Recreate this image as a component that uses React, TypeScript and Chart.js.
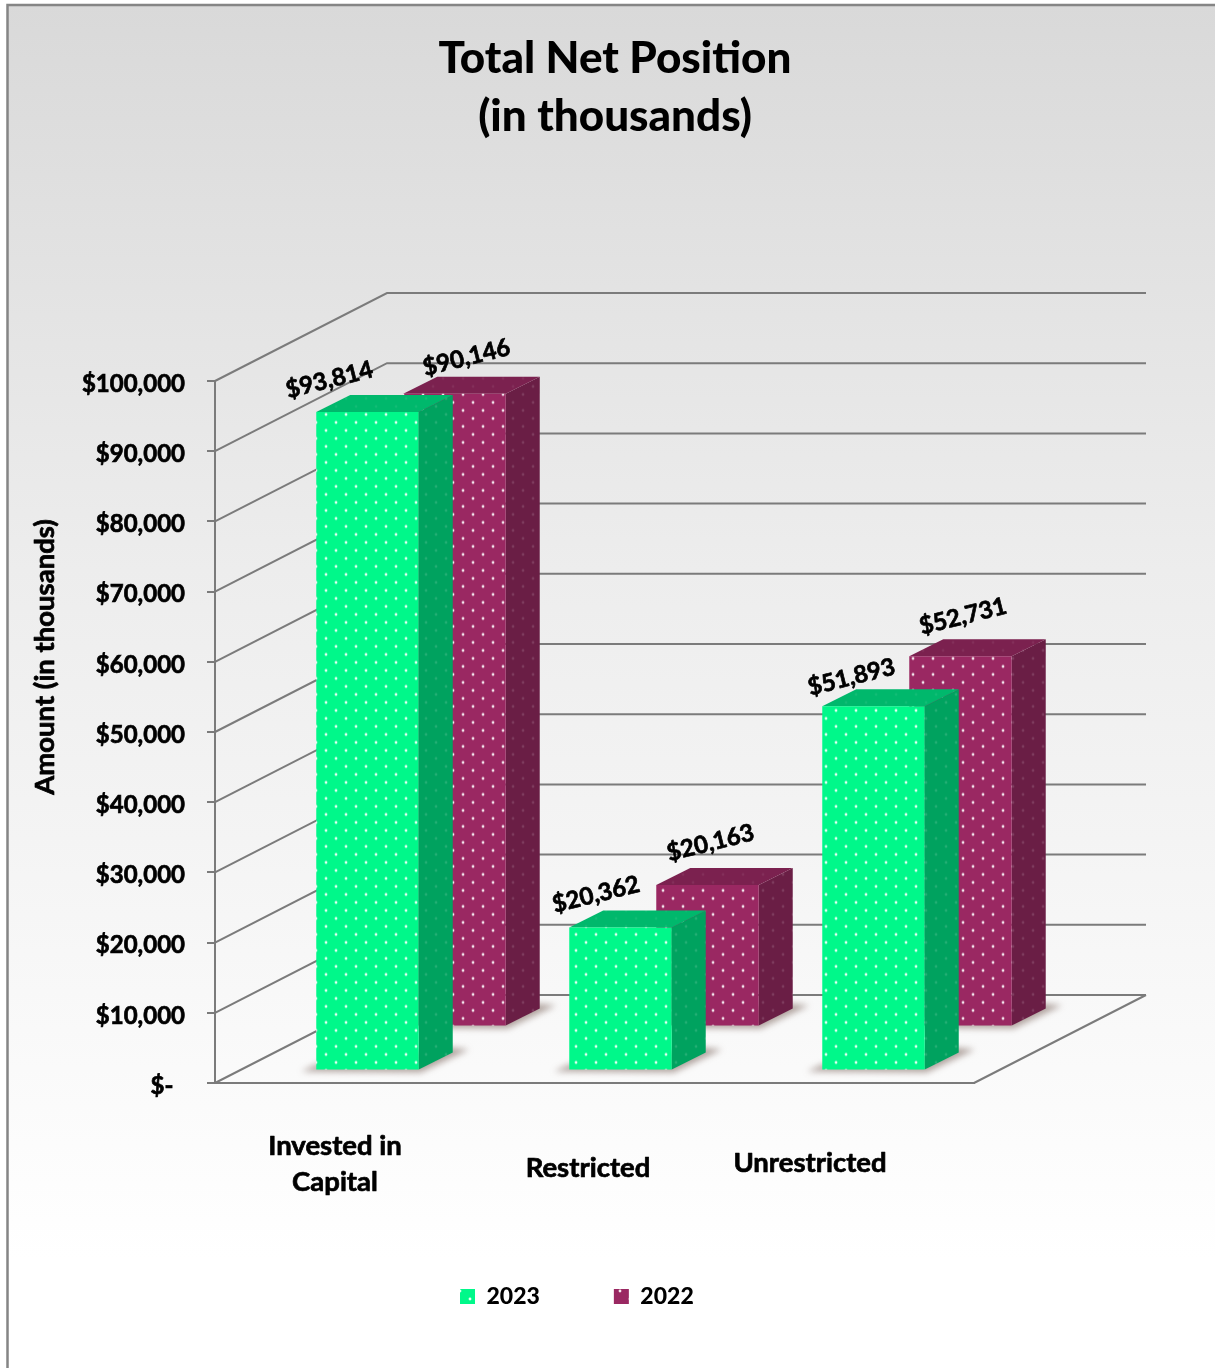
import React, { useEffect, useRef } from "react";
import { Chart } from "chart.js/auto";

// Chart values
const categories: string[][] = [["Invested in", "Capital"], ["Restricted"], ["Unrestricted"]];
const seriesNames = ["2023", "2022"];
const values2023 = [93814, 20362, 51893];
const values2022 = [90146, 20163, 52731];
const yTicks = { min: 0, max: 100000, step: 10000 };
const titleLines = ["Total Net Position", "(in thousands)"];
const yAxisTitle = "Amount (in thousands)";

// Layout of the pseudo-3D box
const WIDTH = 1215;
const HEIGHT = 1368;
const FONT = "Lato";
const LINE = "#7b7b7b";
const WALL_DX = 172;
const WALL_DY = -88;
const BAR_DX = 34;
const BAR_DY = -17;
// Where each series sits on the floor, relative to the front plane
const seriesShift = [
  [26, -12.5],
  [113, -56.5],
];
const seriesColors = [
  { front: "#00f88a", side: "#00a25f", top: "#00b86c" },
  { front: "#9a2862", side: "#6a1e45", top: "#7b214f" },
];
// Hand-placed value labels, relative to the top centre of each bar's front
const labelNudge = [
  [[-38, -32], [-24.5, -33], [-22, -29]],
  [[12, -36], [3, -42], [2.5, -40]],
];
const categoryNudge: number[][] = [[-6.5, 1146, 1182], [-6.5, 1168], [-37.5, 1163]];

function dotted(base: string, dot: string): CanvasPattern {
  const tile = document.createElement("canvas");
  tile.width = 20;
  tile.height = 16;
  const c = tile.getContext("2d")!;
  c.fillStyle = base;
  c.fillRect(0, 0, 20, 16);
  c.fillStyle = dot;
  for (const [x, y] of [[10, 3], [0, 11], [20, 11]]) {
    c.beginPath();
    c.arc(x, y, 1.4, 0, Math.PI * 2);
    c.fill();
  }
  return c.createPattern(tile, "repeat")!;
}

function poly(ctx: CanvasRenderingContext2D, pts: number[][], fill: any) {
  ctx.fillStyle = fill;
  ctx.beginPath();
  pts.forEach(([x, y], i) => (i ? ctx.lineTo(x, y) : ctx.moveTo(x, y)));
  ctx.closePath();
  ctx.fill();
}

// Filled text with a hairline outline, to give the heavier face used on the chart
function heavyText(ctx: CanvasRenderingContext2D, text: string, x: number, y: number) {
  ctx.strokeStyle = "#000";
  ctx.lineWidth = 0.7;
  ctx.lineJoin = "round";
  ctx.strokeText(text, x, y);
  ctx.fillText(text, x, y);
}

export default function App() {
  const ref = useRef<HTMLCanvasElement>(null);

  useEffect(() => {
    const sidePatterns = seriesColors.map((c) => dotted(c.side, "rgba(255,255,255,0.14)"));
    const topPatterns = seriesColors.map((c) => dotted(c.top, "rgba(255,255,255,0.07)"));

    const box3d = {
      id: "box3d",
      afterLayout(chart: any) {
        // Title is centred a little right of the canvas, legend is hand-placed
        chart.titleBlock.left = 0;
        chart.titleBlock.right = 1230;
        const pad = chart.legend.options.labels.padding;
        chart.legend.left = 460 - pad;
        chart.legend.right = WIDTH;
        chart.legend.top = 1285 - pad;
        chart.legend.bottom = HEIGHT;
      },
      beforeDraw(chart: any) {
        const ctx = chart.ctx;
        const g = ctx.createLinearGradient(0, 5, 0, 1260);
        g.addColorStop(0, "#d9d9d9");
        g.addColorStop(0.45, "#ededed");
        g.addColorStop(1, "#ffffff");
        ctx.save();
        ctx.fillStyle = g;
        ctx.fillRect(8, 5, WIDTH - 8, HEIGHT - 5);
        ctx.strokeStyle = "#858585";
        ctx.lineWidth = 2.5;
        ctx.beginPath();
        ctx.moveTo(7.5, HEIGHT);
        ctx.lineTo(7.5, 5);
        ctx.lineTo(WIDTH, 5);
        ctx.stroke();
        ctx.restore();
      },
      beforeDatasetsDraw(chart: any) {
        // Side wall and back wall rules, floor outline
        const { ctx, chartArea: a, scales } = chart;
        ctx.save();
        ctx.strokeStyle = LINE;
        ctx.lineWidth = 2;
        ctx.beginPath();
        for (const t of scales.y.ticks) {
          const py = scales.y.getPixelForValue(t.value);
          ctx.moveTo(a.left, py);
          ctx.lineTo(a.left + WALL_DX, py + WALL_DY);
          ctx.lineTo(a.right + WALL_DX, py + WALL_DY);
        }
        ctx.moveTo(a.right, a.bottom);
        ctx.lineTo(a.right + WALL_DX, a.bottom + WALL_DY);
        ctx.stroke();
        ctx.restore();
      },
      beforeDatasetDraw(chart: any, args: any) {
        const ctx = chart.ctx;
        const i = args.index;
        const [sx, sy] = seriesShift[i];
        ctx.save();
        ctx.translate(sx, sy);
        for (const el of args.meta.data) {
          const L = el.x - el.width / 2;
          const R = el.x + el.width / 2;
          const T = el.y;
          const B = el.base;
          ctx.save();
          ctx.filter = "blur(3px)";
          poly(ctx, [[L - 15, B + 2], [R + 2, B + 3], [R + 50, B - 20], [R + 30, B - 22], [L, B - 5]], "rgba(105,80,70,0.5)");
          ctx.restore();
          poly(ctx, [[R, T], [R + BAR_DX, T + BAR_DY], [R + BAR_DX, B + BAR_DY], [R, B]], sidePatterns[i]);
          poly(ctx, [[L, T], [L + BAR_DX, T + BAR_DY], [R + BAR_DX, T + BAR_DY], [R, T]], topPatterns[i]);
        }
      },
      afterDatasetDraw(chart: any) {
        chart.ctx.restore();
      },
      afterDatasetsDraw(chart: any) {
        const { ctx, scales } = chart;
        ctx.save();
        ctx.fillStyle = "#000";
        ctx.textAlign = "center";
        ctx.textBaseline = "middle";

        // Value labels, tilted along the box's perspective
        ctx.font = `bold 24px ${FONT}`;
        chart.data.datasets.forEach((ds: any, i: number) => {
          const meta = chart.getDatasetMeta(i);
          meta.data.forEach((el: any, j: number) => {
            ctx.save();
            ctx.translate(el.x + seriesShift[i][0] + labelNudge[i][j][0], el.y + seriesShift[i][1] + labelNudge[i][j][1]);
            ctx.rotate((-14 * Math.PI) / 180);
            heavyText(ctx, "$" + ds.data[j].toLocaleString("en-US"), 0, 0);
            ctx.restore();
          });
        });

        // Category names
        ctx.font = `bold 27.5px ${FONT}`;
        categories.forEach((lines, j) => {
          const cx = scales.x.getPixelForValue(j) + categoryNudge[j][0];
          lines.forEach((text, k) => heavyText(ctx, text, cx, categoryNudge[j][k + 1]));
        });

        // Value axis title
        ctx.save();
        ctx.translate(45, 657);
        ctx.rotate(-Math.PI / 2);
        ctx.font = `bold 27.5px ${FONT}`;
        heavyText(ctx, yAxisTitle, 0, 0);
        ctx.restore();
        ctx.restore();
      },
    };

    const chart = new Chart(ref.current!, {
      type: "bar",
      data: {
        labels: categories.map((c) => c.join(" ")),
        datasets: [values2023, values2022].map((data, i) => ({
          label: seriesNames[i],
          data,
          grouped: false,
          backgroundColor: dotted(seriesColors[i].front, "rgba(255,255,255,0.9)"),
          borderWidth: 0,
          categoryPercentage: 1,
          barPercentage: 0.405,
        })),
      },
      options: {
        responsive: false,
        animation: false,
        events: [],
        layout: { padding: { left: 0, top: 0, right: WIDTH - 974, bottom: 0 } },
        scales: {
          x: {
            grid: { display: false },
            border: { color: LINE, width: 2 },
            ticks: { display: false },
            afterFit: (s: any) => {
              s.height = 178;
            },
          },
          y: {
            min: yTicks.min,
            max: yTicks.max,
            grid: { drawOnChartArea: false, drawTicks: true, tickLength: 8, color: LINE, lineWidth: 2 },
            border: { color: LINE, width: 2 },
            ticks: {
              stepSize: yTicks.step,
              padding: 22,
              labelOffset: 3,
              color: "#000",
              textStrokeColor: "#000",
              textStrokeWidth: 0.7,
              font: { family: FONT, size: 24, weight: "bold" },
              callback: (v: any) => (v === 0 ? "$-  " : "$" + Number(v).toLocaleString("en-US")),
            },
            afterFit: (s: any) => {
              s.width = 215;
            },
          },
        },
        plugins: {
          title: {
            display: true,
            text: titleLines,
            color: "#000",
            font: { family: FONT, size: 44, weight: 900, lineHeight: 58 / 44 },
            padding: { top: 30, bottom: 235 },
          },
          legend: {
            position: "bottom",
            align: "start",
            fullSize: false,
            labels: {
              boxWidth: 15,
              boxHeight: 15,
              padding: 74,
              color: "#000",
              font: { family: FONT, size: 23, weight: 900 },
            },
          },
          tooltip: { enabled: false },
        },
      },
      plugins: [box3d],
    } as any);
    return () => chart.destroy();
  }, []);

  return (
    <canvas
      ref={ref}
      width={WIDTH}
      height={HEIGHT}
      style={{ position: "absolute", left: 0, top: 0, display: "block" }}
    />
  );
}
